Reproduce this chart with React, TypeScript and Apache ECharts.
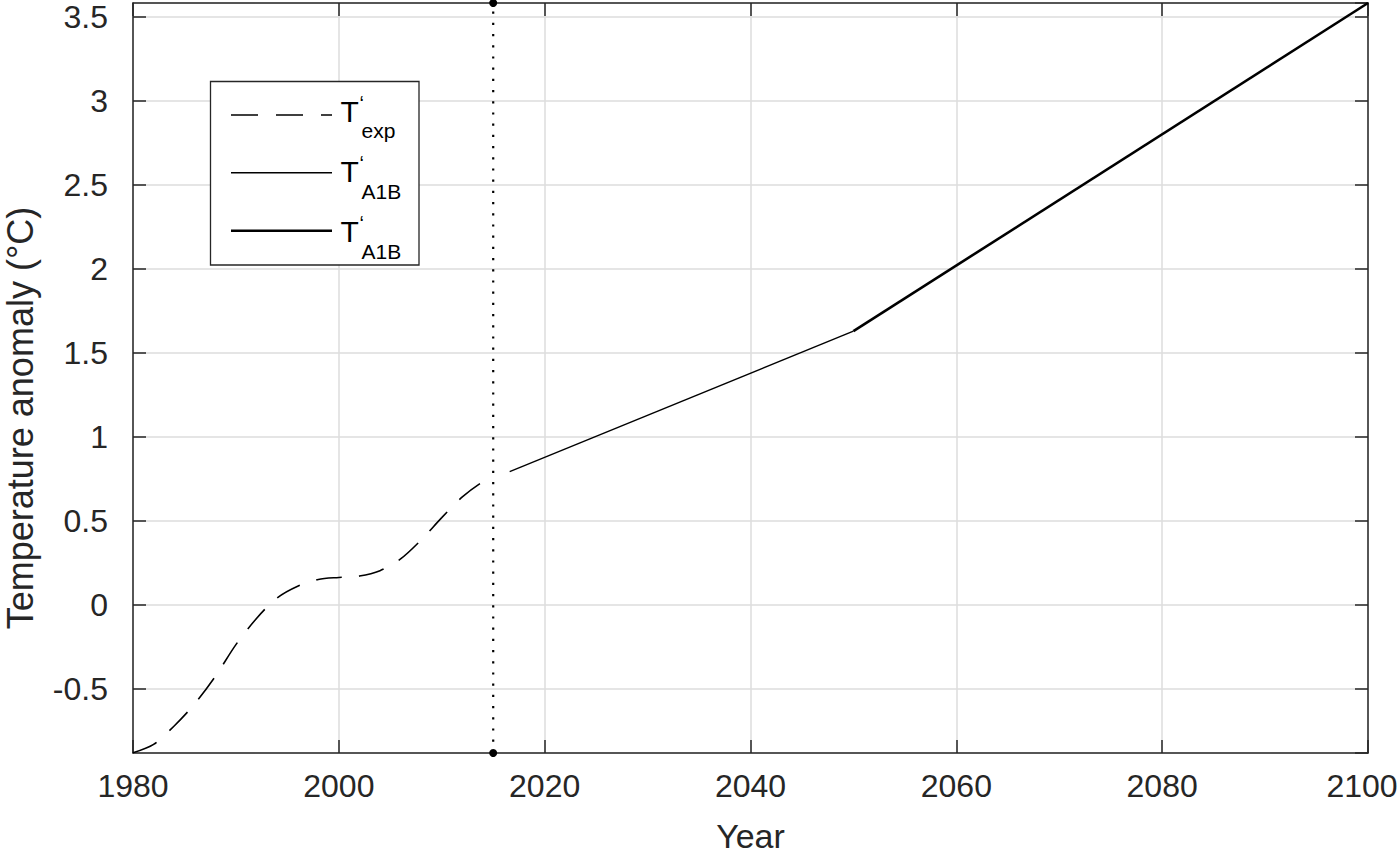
import React, { useEffect, useRef } from "react";
import * as echarts from "echarts";

// ---- data ----
const expYears = [1980, 1982, 1984, 1986, 1988, 1990, 1992, 1994, 1996, 1998, 2000, 2002, 2004, 2006, 2008, 2010, 2012, 2014, 2015];
const expValues = [-0.88, -0.83, -0.72, -0.588, -0.425, -0.236, -0.08, 0.042, 0.112, 0.152, 0.164, 0.172, 0.204, 0.274, 0.387, 0.52, 0.643, 0.734, 0.754];
const a1bThinYears = [2016.6, 2050];
const a1bThinValues = [0.794, 1.63];
const a1bThickYears = [2050, 2100];
const a1bThickValues = [1.63, 3.583];
const markerYear = 2015;
const yMin = -0.881;
const yMax = 3.583;
const xMin = 1980;
const xMax = 2100;
const xInterval = 20;
const legendSubs = ["exp", "A1B", "A1B"];

const FONT = "'Liberation Sans', Arial, Helvetica, sans-serif";
const AXIS = "#262626";
const GRID = "#dcdcdc";

const zip = (xs: number[], ys: number[]) => xs.map((x, i) => [x, ys[i]]);

export default function App() {
  const ref = useRef<HTMLDivElement>(null);
  useEffect(() => {
    if (!ref.current) return;
    const chart = echarts.init(ref.current, null, { renderer: "svg" });

    const yLabelFmt = (v: number) => {
      const r = Math.round(v * 2) / 2;
      return Math.abs(r - v) < 1e-6 ? String(r) : "";
    };
    const xLabelFmt = (v: number) => (v === xMax ? `{last|${v}}` : String(v));

    const legendLineYs = [115, 172.7, 230.7];
    const legendTBase = [122.3, 182, 241.7];
    const legendSubBase = [137.7, 198.3, 258.3];
    const graphics: any[] = [
      {
        type: "rect",
        z: 100,
        shape: { x: 210.5, y: 81.5, width: 208.5, height: 183.5 },
        style: { fill: "#fff", stroke: AXIS, lineWidth: 1.3 },
      },
    ];
    const dashes: any[] = [[27, 18], null, null];
    const widths = [1.6, 1.4, 2.6];
    legendLineYs.forEach((y, i) => {
      graphics.push({
        type: "line",
        z: 101,
        shape: { x1: 231, y1: y, x2: 332, y2: y },
        style: { stroke: "#000", lineWidth: widths[i], lineDash: dashes[i] || undefined },
      });
      graphics.push({
        type: "text",
        z: 101,
        x: 340.5,
        y: legendTBase[i] - 10.5,
        style: { text: "T", font: `30px ${FONT}`, fill: "#000", verticalAlign: "middle", align: "left" },
      });
      graphics.push({
        type: "text",
        z: 101,
        x: 359.5,
        y: legendTBase[i] - 19,
        style: { text: "‘", font: `20px ${FONT}`, fill: "#000", verticalAlign: "middle", align: "left" },
      });
      graphics.push({
        type: "text",
        z: 101,
        x: 361.5,
        y: legendSubBase[i] - 7.3,
        style: { text: legendSubs[i], font: `21px ${FONT}`, fill: "#000", verticalAlign: "middle", align: "left" },
      });
    });

    const axisCommon = {
      axisLine: { show: true, onZero: false, lineStyle: { color: AXIS, width: 1.5 } },
      axisTick: { show: true, inside: true, length: 13, lineStyle: { color: AXIS, width: 1.5 } },
    };

    chart.setOption({
      animation: false,
      backgroundColor: "#fff",
      textStyle: { fontFamily: FONT },
      grid: { left: 133, right: 32, top: 3, bottom: 103, containLabel: false, outerBoundsMode: "none" },
      xAxis: [
        {
          type: "value",
          position: "bottom",
          min: xMin,
          max: xMax,
          interval: xInterval,
          ...axisCommon,
          axisLabel: {
            show: true,
            margin: 17,
            fontSize: 32,
            color: AXIS,
            fontFamily: FONT,
            formatter: xLabelFmt,
            rich: { last: { fontSize: 32, color: AXIS, fontFamily: FONT, padding: [0, 12, 0, 0] } },
          },
          splitLine: { show: true, lineStyle: { color: GRID, width: 1.5 } },
          name: "Year",
          nameLocation: "middle",
          nameGap: 66,
          nameTextStyle: { fontSize: 34, color: AXIS, fontFamily: FONT },
        },
        {
          type: "value",
          position: "top",
          min: xMin,
          max: xMax,
          interval: xInterval,
          ...axisCommon,
          axisLabel: { show: false },
          splitLine: { show: false },
        },
      ],
      yAxis: [
        {
          type: "value",
          position: "left",
          min: yMin,
          max: yMax,
          splitNumber: 9,
          ...axisCommon,
          axisLabel: { show: true, margin: 25, fontSize: 32, color: AXIS, fontFamily: FONT, formatter: yLabelFmt, showMinLabel: false, showMaxLabel: false },
          splitLine: { show: true, lineStyle: { color: GRID, width: 1.5 } },
          name: "Temperature anomaly (°C)",
          nameLocation: "middle",
          nameGap: 95,
          nameTextStyle: { fontSize: 36, color: AXIS, fontFamily: FONT, padding: [0, 80, 0, 0] },
        },
        {
          type: "value",
          position: "right",
          min: yMin,
          max: yMax,
          splitNumber: 9,
          ...axisCommon,
          axisLabel: { show: false },
          splitLine: { show: false },
        },
      ],
      series: [
        {
          type: "line",
          xAxisIndex: 0,
          yAxisIndex: 0,
          data: zip(expYears, expValues),
          showSymbol: false,
          smooth: 0.3,
          lineStyle: { color: "#000", width: 1.6, type: [26, 17] },
          z: 3,
        },
        {
          type: "line",
          data: zip(a1bThinYears, a1bThinValues),
          showSymbol: false,
          lineStyle: { color: "#000", width: 1.4 },
          z: 3,
        },
        {
          type: "line",
          data: zip(a1bThickYears, a1bThickValues),
          showSymbol: false,
          lineStyle: { color: "#000", width: 2.6 },
          z: 3,
        },
        {
          type: "line",
          data: [[markerYear, yMin], [markerYear, yMax]],
          symbol: "circle",
          symbolSize: 8,
          showSymbol: true,
          clip: false,
          itemStyle: { color: "#000" },
          lineStyle: { color: "#000", width: 2.2, type: [2.2, 9] },
          z: 4,
        },
      ],
      graphic: graphics,
    });
    return () => chart.dispose();
  }, []);
  return <div ref={ref} style={{ position: "fixed", left: 0, top: 0, width: "1400px", height: "856px" }} />;
}
